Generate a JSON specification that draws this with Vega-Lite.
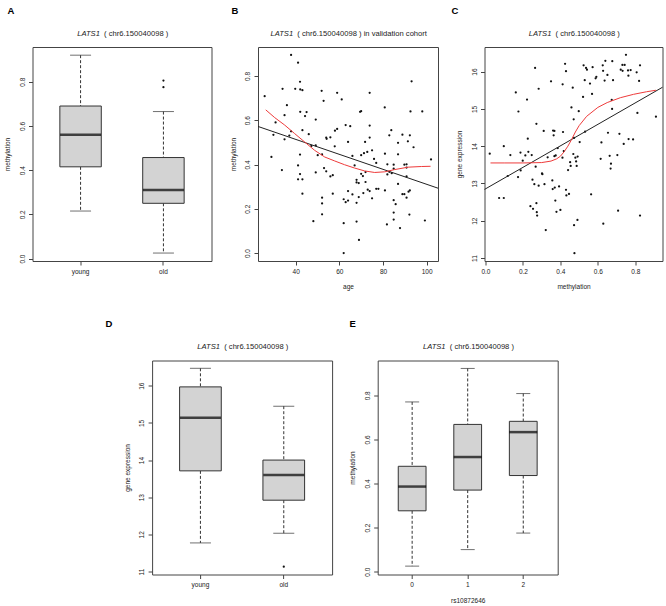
{
"$schema": "https://vega.github.io/schema/vega-lite/v6.json",
"padding": {"left": 3.5, "top": 5, "right": 0, "bottom": 0},
"config": {
  "font": "Liberation Sans",
  "view": {"stroke": "#444", "strokeWidth": 1},
  "axis": {"grid": false, "domain": false, "tickColor": "#444", "tickSize": 4, "labelFontSize": 6.5, "labelColor": "#222", "titleFontSize": 6.5, "titleFontWeight": "normal", "titleColor": "#222", "labelPadding": 3, "labelOverlap": false, "labelBound": false, "labelFlush": false},
  "axisLeft": {"labelAngle": 270, "labelAlign": "center", "labelBaseline": "bottom", "labelPadding": 3.5},
  "axisBottom": {"labelAngle": 0, "labelAlign": "center", "labelBaseline": "top"}
},
"datasets": {
  "boxA": [{"g":"young","lo":0.215,"q1":0.415,"med":0.56,"q3":0.69,"hi":0.92},{"g":"old","lo":0.025,"q1":0.25,"med":0.31,"q3":0.457,"hi":0.665}],
  "outA": [{"g":"old","v":0.805},{"g":"old","v":0.775}],
  "boxD": [{"g":"young","lo":11.77,"q1":13.71,"med":15.14,"q3":15.97,"hi":16.47},{"g":"old","lo":12.03,"q1":12.92,"med":13.6,"q3":14.0,"hi":15.45}],
  "outD": [{"g":"old","v":11.13}],
  "boxE": [{"g":"0","lo":0.025,"q1":0.276,"med":0.386,"q3":0.478,"hi":0.77},{"g":"1","lo":0.10,"q1":0.37,"med":0.52,"q3":0.668,"hi":0.922},{"g":"2","lo":0.175,"q1":0.436,"med":0.633,"q3":0.682,"hi":0.808}],
  "scatB": [{"age":25.8,"m":0.709},{"age":28.9,"m":0.434},{"age":29.8,"m":0.534},{"age":30.8,"m":0.59},{"age":34.0,"m":0.742},{"age":33.7,"m":0.375},{"age":34.9,"m":0.514},{"age":34.9,"m":0.623},{"age":36.0,"m":0.668},{"age":37.1,"m":0.531},{"age":37.9,"m":0.895},{"age":37.9,"m":0.55},{"age":39.8,"m":0.742},{"age":41.1,"m":0.86},{"age":41.1,"m":0.396},{"age":41.1,"m":0.333},{"age":42.0,"m":0.774},{"age":42.0,"m":0.445},{"age":42.0,"m":0.357},{"age":42.1,"m":0.739},{"age":42.1,"m":0.638},{"age":43.1,"m":0.736},{"age":43.1,"m":0.555},{"age":43.1,"m":0.333},{"age":43.1,"m":0.268},{"age":44.3,"m":0.619},{"age":45.0,"m":0.637},{"age":46.0,"m":0.537},{"age":47.2,"m":0.484},{"age":48.1,"m":0.144},{"age":49.2,"m":0.603},{"age":49.2,"m":0.364},{"age":49.2,"m":0.487},{"age":50.1,"m":0.442},{"age":51.9,"m":0.733},{"age":52.1,"m":0.446},{"age":52.1,"m":0.25},{"age":52.1,"m":0.224},{"age":52.1,"m":0.175},{"age":52.8,"m":0.688},{"age":53.0,"m":0.384},{"age":54.0,"m":0.369},{"age":54.0,"m":0.522},{"age":54.2,"m":0.516},{"age":55.9,"m":0.523},{"age":55.9,"m":0.346},{"age":57.0,"m":0.352},{"age":57.0,"m":0.268},{"age":57.9,"m":0.482},{"age":58.0,"m":0.553},{"age":59.0,"m":0.561},{"age":59.0,"m":0.724},{"age":61.1,"m":0.694},{"age":62.0,"m":0.243},{"age":62.0,"m":0.135},{"age":62.0,"m":0.0},{"age":62.9,"m":0.578},{"age":62.9,"m":0.23},{"age":64.0,"m":0.502},{"age":64.0,"m":0.28},{"age":64.0,"m":0.237},{"age":65.0,"m":0.573},{"age":66.0,"m":0.439},{"age":66.0,"m":0.265},{"age":67.0,"m":0.396},{"age":67.9,"m":0.331},{"age":67.9,"m":0.319},{"age":67.9,"m":0.142},{"age":67.9,"m":0.227},{"age":68.9,"m":0.316},{"age":68.9,"m":0.253},{"age":69.0,"m":0.059},{"age":69.5,"m":0.638},{"age":70.0,"m":0.641},{"age":70.0,"m":0.358},{"age":70.0,"m":0.442},{"age":70.8,"m":0.348},{"age":71.0,"m":0.271},{"age":71.3,"m":0.451},{"age":71.8,"m":0.502},{"age":72.0,"m":0.321},{"age":72.0,"m":0.366},{"age":72.8,"m":0.457},{"age":73.0,"m":0.286},{"age":73.9,"m":0.724},{"age":73.9,"m":0.576},{"age":73.9,"m":0.522},{"age":73.9,"m":0.28},{"age":75.0,"m":0.247},{"age":75.0,"m":0.464},{"age":75.9,"m":0.425},{"age":76.9,"m":0.407},{"age":76.9,"m":0.29},{"age":77.9,"m":0.29},{"age":80.8,"m":0.658},{"age":80.9,"m":0.449},{"age":80.9,"m":0.283},{"age":81.8,"m":0.129},{"age":82.0,"m":0.401},{"age":82.0,"m":0.355},{"age":82.9,"m":0.532},{"age":82.9,"m":0.367},{"age":83.8,"m":0.555},{"age":84.0,"m":0.361},{"age":84.9,"m":0.399},{"age":84.9,"m":0.381},{"age":84.9,"m":0.239},{"age":84.9,"m":0.183},{"age":84.9,"m":0.151},{"age":85.8,"m":0.221},{"age":86.9,"m":0.446},{"age":86.9,"m":0.498},{"age":86.9,"m":0.312},{"age":87.8,"m":0.113},{"age":88.9,"m":0.535},{"age":88.9,"m":0.266},{"age":89.8,"m":0.266},{"age":89.8,"m":0.399},{"age":90.8,"m":0.401},{"age":90.8,"m":0.386},{"age":90.8,"m":0.25},{"age":90.8,"m":0.346},{"age":91.4,"m":0.505},{"age":91.7,"m":0.277},{"age":92.3,"m":0.532},{"age":92.6,"m":0.64},{"age":92.1,"m":0.174},{"age":93.1,"m":0.776},{"age":92.3,"m":0.283},{"age":94.0,"m":0.478},{"age":98.0,"m":0.64},{"age":99.2,"m":0.147},{"age":102.0,"m":0.423}],
  "lineB": [{"age":22.75,"m":0.572},{"age":105.2,"m":0.293}],
  "loessB": [{"age":26.3,"m":0.647},{"age":30.4,"m":0.612},{"age":35.0,"m":0.578},{"age":39.5,"m":0.54},{"age":44.1,"m":0.502},{"age":48.7,"m":0.464},{"age":53.3,"m":0.434},{"age":57.9,"m":0.416},{"age":62.4,"m":0.399},{"age":67.0,"m":0.384},{"age":71.6,"m":0.371},{"age":76.2,"m":0.364},{"age":80.8,"m":0.367},{"age":85.3,"m":0.377},{"age":91.5,"m":0.388},{"age":97.6,"m":0.391},{"age":101.8,"m":0.392}],
  "scatC": [{"m":0.023,"e":13.80},{"m":0.073,"e":12.61},{"m":0.098,"e":14.00},{"m":0.098,"e":12.61},{"m":0.119,"e":13.20},{"m":0.133,"e":13.76},{"m":0.162,"e":15.44},{"m":0.174,"e":13.17},{"m":0.176,"e":14.93},{"m":0.187,"e":13.83},{"m":0.188,"e":13.35},{"m":0.199,"e":13.61},{"m":0.213,"e":13.75},{"m":0.222,"e":15.25},{"m":0.226,"e":14.20},{"m":0.229,"e":13.85},{"m":0.240,"e":12.39},{"m":0.247,"e":13.76},{"m":0.251,"e":13.10},{"m":0.254,"e":12.32},{"m":0.261,"e":12.98},{"m":0.265,"e":16.10},{"m":0.268,"e":13.45},{"m":0.272,"e":12.47},{"m":0.272,"e":14.60},{"m":0.274,"e":12.23},{"m":0.276,"e":12.14},{"m":0.284,"e":15.54},{"m":0.284,"e":12.94},{"m":0.302,"e":13.27},{"m":0.304,"e":13.25},{"m":0.311,"e":14.41},{"m":0.315,"e":12.98},{"m":0.322,"e":11.75},{"m":0.332,"e":13.70},{"m":0.350,"e":15.74},{"m":0.357,"e":13.08},{"m":0.359,"e":12.85},{"m":0.361,"e":14.42},{"m":0.364,"e":14.29},{"m":0.368,"e":14.41},{"m":0.368,"e":13.73},{"m":0.370,"e":12.89},{"m":0.373,"e":12.54},{"m":0.375,"e":13.75},{"m":0.379,"e":12.24},{"m":0.386,"e":13.95},{"m":0.393,"e":12.92},{"m":0.400,"e":12.29},{"m":0.411,"e":13.69},{"m":0.412,"e":15.66},{"m":0.414,"e":14.38},{"m":0.418,"e":13.87},{"m":0.425,"e":16.21},{"m":0.430,"e":16.01},{"m":0.430,"e":12.83},{"m":0.432,"e":12.68},{"m":0.441,"e":13.36},{"m":0.446,"e":12.72},{"m":0.452,"e":13.57},{"m":0.455,"e":13.47},{"m":0.459,"e":15.04},{"m":0.466,"e":15.57},{"m":0.469,"e":13.79},{"m":0.471,"e":14.72},{"m":0.473,"e":14.22},{"m":0.473,"e":11.88},{"m":0.475,"e":11.13},{"m":0.480,"e":13.69},{"m":0.484,"e":13.59},{"m":0.487,"e":13.47},{"m":0.491,"e":12.02},{"m":0.492,"e":13.72},{"m":0.498,"e":14.94},{"m":0.503,"e":14.11},{"m":0.521,"e":15.32},{"m":0.524,"e":16.17},{"m":0.530,"e":15.77},{"m":0.532,"e":14.39},{"m":0.537,"e":16.10},{"m":0.542,"e":16.05},{"m":0.558,"e":15.68},{"m":0.564,"e":12.71},{"m":0.569,"e":15.40},{"m":0.572,"e":16.12},{"m":0.588,"e":15.82},{"m":0.592,"e":15.86},{"m":0.615,"e":13.66},{"m":0.619,"e":14.10},{"m":0.626,"e":16.17},{"m":0.628,"e":16.02},{"m":0.629,"e":11.92},{"m":0.636,"e":15.76},{"m":0.640,"e":16.29},{"m":0.651,"e":15.91},{"m":0.654,"e":14.36},{"m":0.663,"e":13.74},{"m":0.668,"e":13.40},{"m":0.670,"e":13.53},{"m":0.674,"e":15.24},{"m":0.676,"e":15.00},{"m":0.677,"e":16.28},{"m":0.681,"e":15.77},{"m":0.704,"e":13.76},{"m":0.708,"e":12.27},{"m":0.715,"e":14.33},{"m":0.722,"e":16.05},{"m":0.731,"e":16.18},{"m":0.732,"e":16.02},{"m":0.738,"e":14.06},{"m":0.743,"e":16.18},{"m":0.750,"e":16.45},{"m":0.761,"e":16.03},{"m":0.763,"e":15.89},{"m":0.764,"e":14.19},{"m":0.775,"e":16.04},{"m":0.788,"e":14.18},{"m":0.807,"e":15.98},{"m":0.811,"e":14.89},{"m":0.820,"e":15.75},{"m":0.825,"e":16.17},{"m":0.825,"e":12.14},{"m":0.910,"e":14.79}],
  "lineC": [{"m":-0.005,"e":12.84},{"m":0.945,"e":15.58}],
  "loessC": [{"m":0.027,"e":13.55},{"m":0.1,"e":13.55},{"m":0.2,"e":13.55},{"m":0.3,"e":13.56},{"m":0.35,"e":13.6},{"m":0.38,"e":13.66},{"m":0.40,"e":13.73},{"m":0.42,"e":13.85},{"m":0.44,"e":14.0},{"m":0.46,"e":14.18},{"m":0.48,"e":14.38},{"m":0.5,"e":14.55},{"m":0.54,"e":14.8},{"m":0.6,"e":15.04},{"m":0.65,"e":15.17},{"m":0.72,"e":15.3},{"m":0.79,"e":15.39},{"m":0.86,"e":15.46},{"m":0.91,"e":15.5}]
},
"spacing": 27.5,
"vconcat": [
 {"hconcat": [
  {"width": 179, "height": 214,
   "title": {"text": "A", "anchor": "start", "frame": "group", "fontSize": 9.5, "fontWeight": "bold", "color": "#000", "dx": -25, "offset": 14},
   "resolve": {"axis": {"x": "independent", "y": "independent"}},
   "layer": [
    {"data": {"name": "boxA"}, "mark": {"type": "rule", "strokeDash": [3, 2], "color": "#333"},
     "encoding": {"x": {"field": "g", "type": "nominal", "scale": {"type": "band", "domain": ["young","old"], "paddingInner": 0.5, "paddingOuter": 0.33}, "axis": null},
                  "y": {"field": "hi", "type": "quantitative", "scale": {"domain": [-0.011, 0.957], "nice": false, "zero": false}, "axis": null}, "y2": {"field": "q3"}}},
    {"data": {"name": "boxA"}, "mark": {"type": "rule", "strokeDash": [3, 2], "color": "#333"},
     "encoding": {"x": {"field": "g", "type": "nominal", "scale": {"type": "band", "domain": ["young","old"], "paddingInner": 0.5, "paddingOuter": 0.33}, "axis": null},
                  "y": {"field": "q1", "type": "quantitative", "scale": {"domain": [-0.011, 0.957], "nice": false, "zero": false}, "axis": null}, "y2": {"field": "lo"}}},
    {"data": {"name": "boxA"}, "mark": {"type": "tick", "size": 21, "thickness": 1, "color": "#333"},
     "encoding": {"x": {"field": "g", "type": "nominal", "scale": {"type": "band", "domain": ["young","old"], "paddingInner": 0.5, "paddingOuter": 0.33}, "axis": null},
                  "y": {"field": "hi", "type": "quantitative", "scale": {"domain": [-0.011, 0.957], "nice": false, "zero": false}, "axis": null}}},
    {"data": {"name": "boxA"}, "mark": {"type": "tick", "size": 21, "thickness": 1, "color": "#333"},
     "encoding": {"x": {"field": "g", "type": "nominal", "scale": {"type": "band", "domain": ["young","old"], "paddingInner": 0.5, "paddingOuter": 0.33}, "axis": null},
                  "y": {"field": "lo", "type": "quantitative", "scale": {"domain": [-0.011, 0.957], "nice": false, "zero": false}, "axis": null}}},
    {"data": {"name": "boxA"}, "mark": {"type": "bar", "fill": "#d3d3d3", "stroke": "#333", "strokeWidth": 1},
     "encoding": {"x": {"field": "g", "type": "nominal", "scale": {"type": "band", "domain": ["young","old"], "paddingInner": 0.5, "paddingOuter": 0.33}, "axis": {"title": null, "orient": "bottom"}},
                  "y": {"field": "q1", "type": "quantitative", "scale": {"domain": [-0.011, 0.957], "nice": false, "zero": false}, "axis": {"orient": "left", "title": "methylation", "values": [0, 0.2, 0.4, 0.6, 0.8], "format": ".1f", "titleX": -25, "titleY": 107, "titleBaseline": "middle", "titleAngle": 270}},
                  "y2": {"field": "q3"}}},
    {"data": {"name": "boxA"}, "mark": {"type": "tick", "size": 41, "thickness": 2.5, "color": "#000"},
     "encoding": {"x": {"field": "g", "type": "nominal", "scale": {"type": "band", "domain": ["young","old"], "paddingInner": 0.5, "paddingOuter": 0.33}, "axis": {"orient": "top", "labels": false, "ticks": false, "domain": false, "title": "LATS1", "titleFontStyle": "italic", "titleFontSize": 7.6, "titleAngle": 0, "titleX": 66.9, "titleY": -12, "titleAlign": "right", "titleBaseline": "alphabetic"}},
                  "y": {"field": "med", "type": "quantitative", "scale": {"domain": [-0.011, 0.957], "nice": false, "zero": false}, "axis": {"orient": "right", "labels": false, "ticks": false, "domain": false, "title": "( chr6.150040098 )", "titleFontSize": 7.6, "titleAngle": 0, "titleX": -107.9, "titleY": -12, "titleAlign": "left", "titleBaseline": "alphabetic"}}}},
    {"data": {"name": "outA"}, "mark": {"type": "circle", "size": 5, "color": "#111", "opacity": 1},
     "encoding": {"x": {"field": "g", "type": "nominal", "scale": {"type": "band", "domain": ["young","old"], "paddingInner": 0.5, "paddingOuter": 0.33}, "axis": null},
                  "y": {"field": "v", "type": "quantitative", "scale": {"domain": [-0.011, 0.957], "nice": false, "zero": false}, "axis": null}}}
   ]},
  {"width": 180, "height": 214,
   "title": {"text": "B", "anchor": "start", "frame": "group", "fontSize": 9.5, "fontWeight": "bold", "color": "#000", "dx": -26.5, "offset": 14},
   "resolve": {"axis": {"x": "independent", "y": "independent"}},
   "layer": [
    {"data": {"name": "scatB"}, "mark": {"type": "circle", "size": 5, "color": "#111", "opacity": 1},
     "encoding": {"x": {"field": "age", "type": "quantitative", "scale": {"domain": [22.75, 105.2], "nice": false, "zero": false}, "axis": {"orient": "bottom", "title": "age", "values": [40, 60, 80, 100], "titleY": 25.5, "titleBaseline": "middle"}},
                  "y": {"field": "m", "type": "quantitative", "scale": {"domain": [-0.036, 0.931], "nice": false, "zero": false}, "axis": {"orient": "left", "title": "methylation", "values": [0, 0.2, 0.4, 0.6, 0.8], "format": ".1f", "titleX": -25, "titleY": 107, "titleBaseline": "middle", "titleAngle": 270}}}},
    {"data": {"name": "lineB"}, "mark": {"type": "line", "color": "#222", "strokeWidth": 1},
     "encoding": {"x": {"field": "age", "type": "quantitative", "scale": {"domain": [22.75, 105.2], "nice": false, "zero": false}, "axis": {"orient": "top", "labels": false, "ticks": false, "domain": false, "title": "LATS1", "titleFontStyle": "italic", "titleFontSize": 7.6, "titleAngle": 0, "titleX": 34.65, "titleY": -12, "titleAlign": "right", "titleBaseline": "alphabetic"}},
                  "y": {"field": "m", "type": "quantitative", "scale": {"domain": [-0.036, 0.931], "nice": false, "zero": false}, "axis": {"orient": "right", "labels": false, "ticks": false, "domain": false, "title": "( chr6.150040098 ) in validation cohort", "titleFontSize": 7.6, "titleAngle": 0, "titleX": -141.15, "titleY": -12, "titleAlign": "left", "titleBaseline": "alphabetic"}}}},
    {"data": {"name": "loessB"}, "mark": {"type": "line", "color": "#ee3b3b", "strokeWidth": 1},
     "encoding": {"x": {"field": "age", "type": "quantitative", "scale": {"domain": [22.75, 105.2], "nice": false, "zero": false}, "axis": null},
                  "y": {"field": "m", "type": "quantitative", "scale": {"domain": [-0.036, 0.931], "nice": false, "zero": false}, "axis": null}}}
   ]},
  {"width": 178, "height": 214,
   "title": {"text": "C", "anchor": "start", "frame": "group", "fontSize": 9.5, "fontWeight": "bold", "color": "#000", "dx": -33, "offset": 14},
   "resolve": {"axis": {"x": "independent", "y": "independent"}},
   "layer": [
    {"data": {"name": "scatC"}, "mark": {"type": "circle", "size": 5, "color": "#111", "opacity": 1},
     "encoding": {"x": {"field": "m", "type": "quantitative", "scale": {"domain": [-0.005, 0.945], "nice": false, "zero": false}, "axis": {"orient": "bottom", "title": "methylation", "values": [0, 0.2, 0.4, 0.6, 0.8], "format": ".1f", "titleY": 25.5, "titleBaseline": "middle"}},
                  "y": {"field": "e", "type": "quantitative", "scale": {"domain": [10.92, 16.66], "nice": false, "zero": false}, "axis": {"orient": "left", "title": "gene expression", "values": [11, 12, 13, 14, 15, 16], "titleX": -25, "titleY": 107, "titleBaseline": "middle", "titleAngle": 270}}}},
    {"data": {"name": "lineC"}, "mark": {"type": "line", "color": "#222", "strokeWidth": 1},
     "encoding": {"x": {"field": "m", "type": "quantitative", "scale": {"domain": [-0.005, 0.945], "nice": false, "zero": false}, "axis": {"orient": "top", "labels": false, "ticks": false, "domain": false, "title": "LATS1", "titleFontStyle": "italic", "titleFontSize": 7.6, "titleAngle": 0, "titleX": 66.4, "titleY": -12, "titleAlign": "right", "titleBaseline": "alphabetic"}},
                  "y": {"field": "e", "type": "quantitative", "scale": {"domain": [10.92, 16.66], "nice": false, "zero": false}, "axis": {"orient": "right", "labels": false, "ticks": false, "domain": false, "title": "( chr6.150040098 )", "titleFontSize": 7.6, "titleAngle": 0, "titleX": -107.4, "titleY": -12, "titleAlign": "left", "titleBaseline": "alphabetic"}}}},
    {"data": {"name": "loessC"}, "mark": {"type": "line", "color": "#ee3b3b", "strokeWidth": 1},
     "encoding": {"x": {"field": "m", "type": "quantitative", "scale": {"domain": [-0.005, 0.945], "nice": false, "zero": false}, "axis": null},
                  "y": {"field": "e", "type": "quantitative", "scale": {"domain": [10.92, 16.66], "nice": false, "zero": false}, "axis": null}}}
   ]}
 ], "spacing": 46.5, "bounds": "flush"},
 {"hconcat": [
  {"width": 73.6, "height": 214, "view": {"stroke": null}, "data": {"values": []}, "mark": "point"},
  {"width": 180, "height": 214,
   "title": {"text": "D", "anchor": "start", "frame": "group", "fontSize": 9.5, "fontWeight": "bold", "color": "#000", "dx": -46.7, "offset": 14},
   "resolve": {"axis": {"x": "independent", "y": "independent"}},
   "layer": [
    {"data": {"name": "boxD"}, "mark": {"type": "rule", "strokeDash": [3, 2], "color": "#333"},
     "encoding": {"x": {"field": "g", "type": "nominal", "scale": {"type": "band", "domain": ["young","old"], "paddingInner": 0.5, "paddingOuter": 0.33}, "axis": null},
                  "y": {"field": "hi", "type": "quantitative", "scale": {"domain": [10.92, 16.68], "nice": false, "zero": false}, "axis": null}, "y2": {"field": "q3"}}},
    {"data": {"name": "boxD"}, "mark": {"type": "rule", "strokeDash": [3, 2], "color": "#333"},
     "encoding": {"x": {"field": "g", "type": "nominal", "scale": {"type": "band", "domain": ["young","old"], "paddingInner": 0.5, "paddingOuter": 0.33}, "axis": null},
                  "y": {"field": "q1", "type": "quantitative", "scale": {"domain": [10.92, 16.68], "nice": false, "zero": false}, "axis": null}, "y2": {"field": "lo"}}},
    {"data": {"name": "boxD"}, "mark": {"type": "tick", "size": 21, "thickness": 1, "color": "#333"},
     "encoding": {"x": {"field": "g", "type": "nominal", "scale": {"type": "band", "domain": ["young","old"], "paddingInner": 0.5, "paddingOuter": 0.33}, "axis": null},
                  "y": {"field": "hi", "type": "quantitative", "scale": {"domain": [10.92, 16.68], "nice": false, "zero": false}, "axis": null}}},
    {"data": {"name": "boxD"}, "mark": {"type": "tick", "size": 21, "thickness": 1, "color": "#333"},
     "encoding": {"x": {"field": "g", "type": "nominal", "scale": {"type": "band", "domain": ["young","old"], "paddingInner": 0.5, "paddingOuter": 0.33}, "axis": null},
                  "y": {"field": "lo", "type": "quantitative", "scale": {"domain": [10.92, 16.68], "nice": false, "zero": false}, "axis": null}}},
    {"data": {"name": "boxD"}, "mark": {"type": "bar", "fill": "#d3d3d3", "stroke": "#333", "strokeWidth": 1},
     "encoding": {"x": {"field": "g", "type": "nominal", "scale": {"type": "band", "domain": ["young","old"], "paddingInner": 0.5, "paddingOuter": 0.33}, "axis": {"title": null, "orient": "bottom"}},
                  "y": {"field": "q1", "type": "quantitative", "scale": {"domain": [10.92, 16.68], "nice": false, "zero": false}, "axis": {"orient": "left", "title": "gene expression", "values": [11, 12, 13, 14, 15, 16], "titleX": -25, "titleY": 107, "titleBaseline": "middle", "titleAngle": 270}},
                  "y2": {"field": "q3"}}},
    {"data": {"name": "boxD"}, "mark": {"type": "tick", "size": 41, "thickness": 2.5, "color": "#000"},
     "encoding": {"x": {"field": "g", "type": "nominal", "scale": {"type": "band", "domain": ["young","old"], "paddingInner": 0.5, "paddingOuter": 0.33}, "axis": {"orient": "top", "labels": false, "ticks": false, "domain": false, "title": "LATS1", "titleFontStyle": "italic", "titleFontSize": 7.6, "titleAngle": 0, "titleX": 67.4, "titleY": -12, "titleAlign": "right", "titleBaseline": "alphabetic"}},
                  "y": {"field": "med", "type": "quantitative", "scale": {"domain": [10.92, 16.68], "nice": false, "zero": false}, "axis": {"orient": "right", "labels": false, "ticks": false, "domain": false, "title": "( chr6.150040098 )", "titleFontSize": 7.6, "titleAngle": 0, "titleX": -108.4, "titleY": -12, "titleAlign": "left", "titleBaseline": "alphabetic"}}}},
    {"data": {"name": "outD"}, "mark": {"type": "circle", "size": 5, "color": "#111", "opacity": 1},
     "encoding": {"x": {"field": "g", "type": "nominal", "scale": {"type": "band", "domain": ["young","old"], "paddingInner": 0.5, "paddingOuter": 0.33}, "axis": null},
                  "y": {"field": "v", "type": "quantitative", "scale": {"domain": [10.92, 16.68], "nice": false, "zero": false}, "axis": null}}}
   ]},
  {"width": 180, "height": 214,
   "title": {"text": "E", "anchor": "start", "frame": "group", "fontSize": 9.5, "fontWeight": "bold", "color": "#000", "dx": -28.3, "offset": 14},
   "resolve": {"axis": {"x": "independent", "y": "independent"}},
   "layer": [
    {"data": {"name": "boxE"}, "mark": {"type": "rule", "strokeDash": [3, 2], "color": "#333"},
     "encoding": {"x": {"field": "g", "type": "nominal", "scale": {"type": "band", "domain": ["0","1","2"], "paddingInner": 0.5, "paddingOuter": 0.37}, "axis": null},
                  "y": {"field": "hi", "type": "quantitative", "scale": {"domain": [-0.013, 0.958], "nice": false, "zero": false}, "axis": null}, "y2": {"field": "q3"}}},
    {"data": {"name": "boxE"}, "mark": {"type": "rule", "strokeDash": [3, 2], "color": "#333"},
     "encoding": {"x": {"field": "g", "type": "nominal", "scale": {"type": "band", "domain": ["0","1","2"], "paddingInner": 0.5, "paddingOuter": 0.37}, "axis": null},
                  "y": {"field": "q1", "type": "quantitative", "scale": {"domain": [-0.013, 0.958], "nice": false, "zero": false}, "axis": null}, "y2": {"field": "lo"}}},
    {"data": {"name": "boxE"}, "mark": {"type": "tick", "size": 14, "thickness": 1, "color": "#333"},
     "encoding": {"x": {"field": "g", "type": "nominal", "scale": {"type": "band", "domain": ["0","1","2"], "paddingInner": 0.5, "paddingOuter": 0.37}, "axis": null},
                  "y": {"field": "hi", "type": "quantitative", "scale": {"domain": [-0.013, 0.958], "nice": false, "zero": false}, "axis": null}}},
    {"data": {"name": "boxE"}, "mark": {"type": "tick", "size": 14, "thickness": 1, "color": "#333"},
     "encoding": {"x": {"field": "g", "type": "nominal", "scale": {"type": "band", "domain": ["0","1","2"], "paddingInner": 0.5, "paddingOuter": 0.37}, "axis": null},
                  "y": {"field": "lo", "type": "quantitative", "scale": {"domain": [-0.013, 0.958], "nice": false, "zero": false}, "axis": null}}},
    {"data": {"name": "boxE"}, "mark": {"type": "bar", "fill": "#d3d3d3", "stroke": "#333", "strokeWidth": 1},
     "encoding": {"x": {"field": "g", "type": "nominal", "scale": {"type": "band", "domain": ["0","1","2"], "paddingInner": 0.5, "paddingOuter": 0.37}, "axis": {"title": "rs10872646", "orient": "bottom", "titleY": 25.5, "titleBaseline": "middle"}},
                  "y": {"field": "q1", "type": "quantitative", "scale": {"domain": [-0.013, 0.958], "nice": false, "zero": false}, "axis": {"orient": "left", "title": "methylation", "values": [0, 0.2, 0.4, 0.6, 0.8], "format": ".1f", "titleX": -25, "titleY": 107, "titleBaseline": "middle", "titleAngle": 270}},
                  "y2": {"field": "q3"}}},
    {"data": {"name": "boxE"}, "mark": {"type": "tick", "size": 28, "thickness": 2.5, "color": "#000"},
     "encoding": {"x": {"field": "g", "type": "nominal", "scale": {"type": "band", "domain": ["0","1","2"], "paddingInner": 0.5, "paddingOuter": 0.37}, "axis": {"orient": "top", "labels": false, "ticks": false, "domain": false, "title": "LATS1", "titleFontStyle": "italic", "titleFontSize": 7.6, "titleAngle": 0, "titleX": 67.4, "titleY": -12, "titleAlign": "right", "titleBaseline": "alphabetic"}},
                  "y": {"field": "med", "type": "quantitative", "scale": {"domain": [-0.013, 0.958], "nice": false, "zero": false}, "axis": {"orient": "right", "labels": false, "ticks": false, "domain": false, "title": "( chr6.150040098 )", "titleFontSize": 7.6, "titleAngle": 0, "titleX": -108.4, "titleY": -12, "titleAlign": "left", "titleBaseline": "alphabetic"}}}}
   ]}
 ], "spacing": 45.6, "bounds": "flush"}
]
}
